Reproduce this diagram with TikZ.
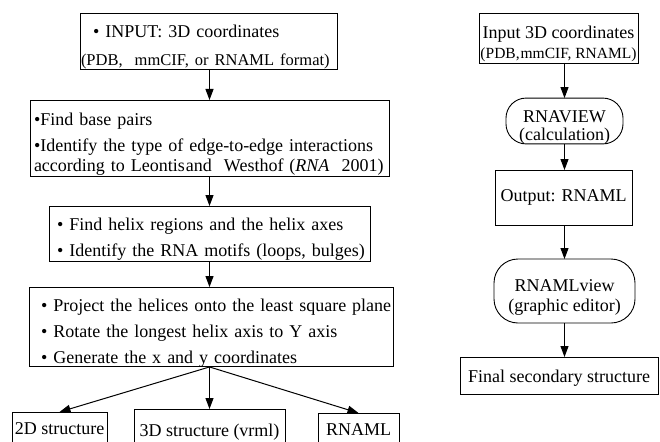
\documentclass[tikz,border=0pt]{standalone}
\usepackage{fontspec}
\setmainfont{Liberation Serif}
\usetikzlibrary{arrows.meta}

\newcommand{\lowstrut}{\rule{0pt}{24pt}}

\begin{document}
\begin{tikzpicture}[y=1pt, x=1pt, yscale=-1, inner sep=0pt, outer sep=0pt,
  stepbox/.style={draw=black, line width=0.9pt, inner xsep=0pt, align=left, font=\fontsize{18}{26}\selectfont},
  sidebox/.style={draw=black, line width=0.9pt, align=center, font=\fontsize{18}{20}\selectfont},
  roundbox/.style={sidebox, rounded corners=20pt},
  flow/.style={draw=black, line width=1pt, -{Triangle[length=11pt,width=8pt]}}]
\useasboundingbox (0,0) rectangle (660,441);
\clip (0,0) rectangle (660,441);

% left column
\node[stepbox, text width=257pt, minimum height=56pt] (input) at (208.5,41)
  {\lowstrut\hspace*{13pt}\textbullet\ INPUT: 3D coordinates\\[2pt]
   \hspace*{1pt}{\fontsize{16.5}{20}\selectfont (PDB,\ \ mmCIF, or RNAML format)}};

\node[stepbox, text width=359pt, minimum height=76pt] (pairs) at (209.5,138)
  {\lowstrut\hspace*{4pt}\textbullet Find base pairs\\
   \hspace*{4pt}\textbullet Identify the type of edge-to-edge interactions\\[-6pt]
   \hspace*{4pt}according to Leontis\hspace{1pt}and\ \ Westhof (\textit{RNA}\ \ 2001)};

\node[stepbox, text width=321pt, minimum height=55pt] (helix) at (209.5,233.5)
  {\lowstrut\hspace*{8pt}\textbullet\ Find helix regions and the helix axes\\
   \hspace*{8pt}\textbullet\ Identify the RNA motifs (loops, bulges)};

\node[stepbox, text width=364pt, minimum height=72pt] (project) at (211,327)
  {\lowstrut\hspace*{12pt}\textbullet\ Project the helices onto the least square plane\\
   \hspace*{12pt}\textbullet\ Rotate the longest helix axis to Y axis\\
   \hspace*{12pt}\textbullet\ Generate the x and y coordinates};

\node[sidebox, minimum width=95pt, minimum height=34pt] (flat) at (59.5,429) {2D structure};
\node[sidebox, minimum width=151pt, minimum height=46pt] (vrml) at (209.5,432) {3D structure (vrml)};
\node[sidebox, minimum width=81pt, minimum height=34pt] (xml) at (358.5,430) {RNAML};

\draw[flow] (input.south -| pairs.north) -- (pairs.north);
\draw[flow] (pairs) -- (helix);
\draw[flow] (helix.south) -- (helix.south |- project.north);
\draw[flow] (project.south -| vrml.north) -- (vrml.north);
\draw[flow] (project.south -| vrml.north) -- (flat.north);
\draw[flow] (project.south -| vrml.north) -- (xml.north);

% right column
\node[sidebox, minimum width=159pt, minimum height=50pt] (coords) at (558.5,38)
  {\lowstrut Input 3D coordinates\\ {\fontsize{15.5}{20}\selectfont (PDB,\hspace{1pt}mmCIF, RNAML)}};
\node[roundbox, minimum width=117pt, minimum height=44pt] (rnaview) at (564.5,121)
  {\lowstrut RNAVIEW\\[-2pt] (calculation)};
\node[sidebox, minimum width=137pt, minimum height=55pt] (output) at (563.5,197.5)
  {Output: RNAML};
\node[roundbox, rounded corners=24pt, minimum width=141pt, minimum height=64pt] (viewer) at (564.5,291)
  {\lowstrut RNAMLview\\ (graphic editor)};
\node[sidebox, minimum width=198pt, minimum height=37pt] (final) at (559,375.5)
  {\rule{0pt}{17pt}Final secondary structure};

\draw[flow] (coords.south -| rnaview.north) -- (rnaview.north);
\draw[flow] (rnaview) -- (rnaview |- output.north);
\draw[flow] (output.south -| viewer.north) -- (viewer.north);
\draw[flow] (viewer) -- (viewer |- final.north);

\end{tikzpicture}
\end{document}
